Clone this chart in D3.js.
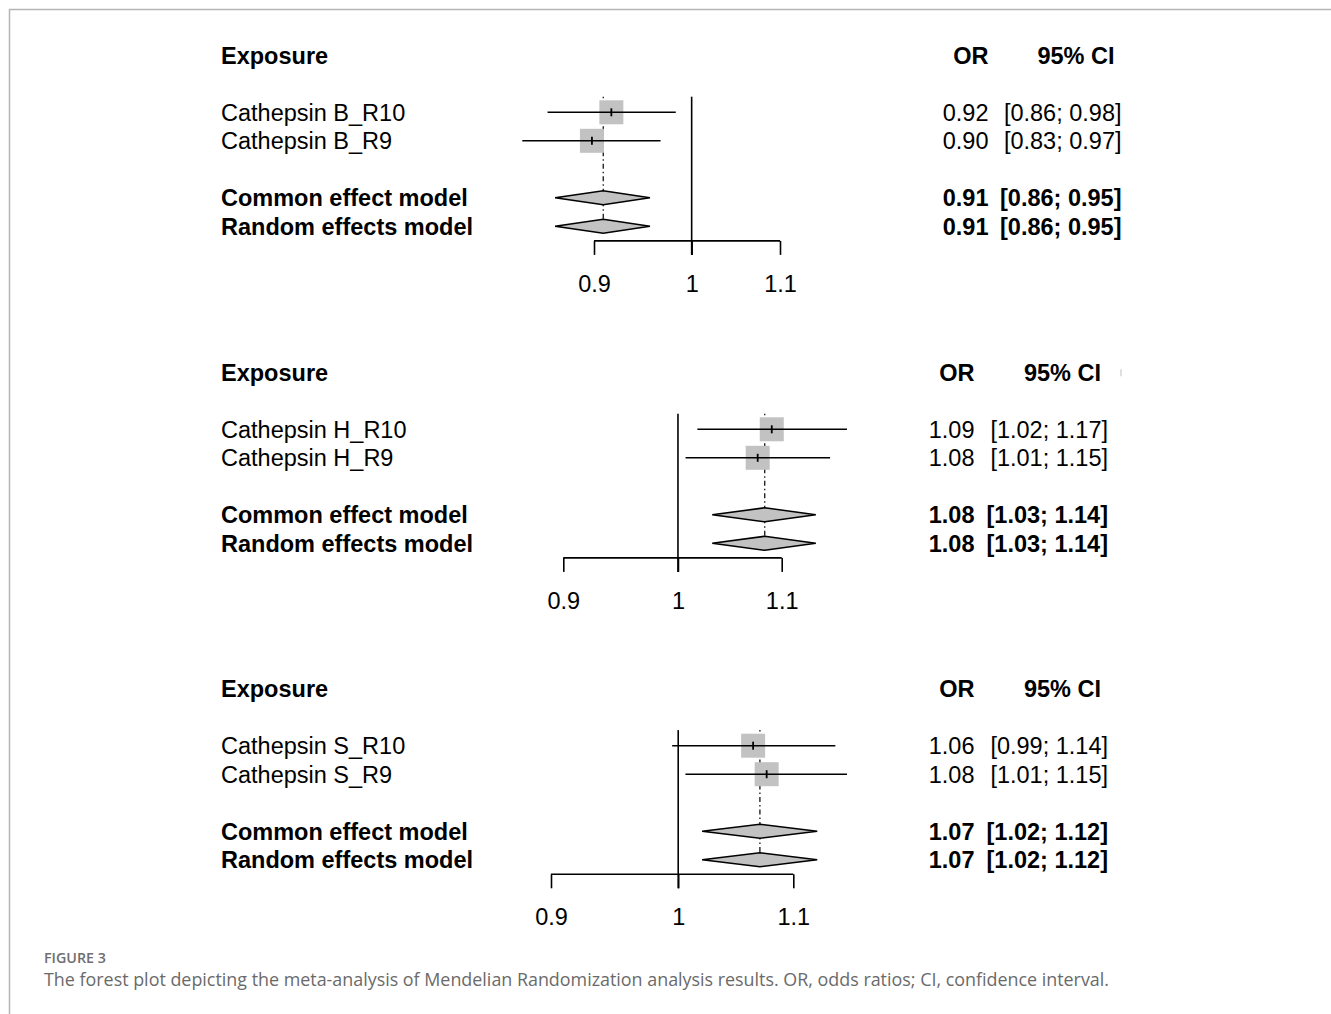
<!DOCTYPE html>
<html>
<head>
<meta charset="utf-8">
<script src="https://cdn.jsdelivr.net/npm/d3@7"></script>
<style>
  html, body { margin: 0; padding: 0; background: #fff; }
  svg { display: block; }
</style>
</head>
<body>
<svg id="chart" width="1331" height="1014"></svg>
<script>
// ---------------- DATA ----------------
const studyLabels = [
  ["Cathepsin B_R10", "Cathepsin B_R9"],
  ["Cathepsin H_R10", "Cathepsin H_R9"],
  ["Cathepsin S_R10", "Cathepsin S_R9"]
];
const studyOR    = [[0.917, 0.898], [1.090, 1.076], [1.064, 1.076]];
const studyLower = [[0.856, 0.833], [1.018, 1.007], [0.995, 1.006]];
const studyUpper = [[0.983, 0.967], [1.168, 1.150], [1.139, 1.150]];
const studyORText = [["0.92", "0.90"], ["1.09", "1.08"], ["1.06", "1.08"]];
const studyCIText = [
  ["[0.86; 0.98]", "[0.83; 0.97]"],
  ["[1.02; 1.17]", "[1.01; 1.15]"],
  ["[0.99; 1.14]", "[1.01; 1.15]"]
];
const modelLabels = ["Common effect model", "Random effects model"];
const pooledOR    = [[0.909, 0.909], [1.083, 1.083], [1.070, 1.070]];
const pooledLower = [[0.863, 0.863], [1.032, 1.032], [1.020, 1.020]];
const pooledUpper = [[0.956, 0.956], [1.135, 1.135], [1.122, 1.122]];
const pooledORText = [["0.91", "0.91"], ["1.08", "1.08"], ["1.07", "1.07"]];
const pooledCIText = [
  ["[0.86; 0.95]", "[0.86; 0.95]"],
  ["[1.03; 1.14]", "[1.03; 1.14]"],
  ["[1.02; 1.12]", "[1.02; 1.12]"]
];
const tickValues = [0.9, 1, 1.1];
const tickLabels = ["0.9", "1", "1.1"];
const headerLabels = ["Exposure", "OR", "95% CI"];
const figureLabel = "FIGURE 3";
const captionText = "The forest plot depicting the meta-analysis of Mendelian Randomization analysis results. OR, odds ratios; CI, confidence interval.";

// ---------------- LAYOUT ----------------
const svg = d3.select("#chart");
const FONT = "'Liberation Sans', Arial, Helvetica, sans-serif";
const FS = 23.5;
const BASE = FS * 0.358;          // baseline offset from row centre
const ROW = 28.5;
const BOX = 24;
const DIAM_H = 7;

const panels = [
  { row1: 112.3, xRange: [594, 780],   orRight: 988.5, ciRight: 1121.5, ciHeadRight: 1114.5 },
  { row1: 429.3, xRange: [563.3, 781.7], orRight: 974.5, ciRight: 1108,   ciHeadRight: 1101 },
  { row1: 745.7, xRange: [551, 793.3], orRight: 974.5, ciRight: 1108,   ciHeadRight: 1101 }
];

// border
svg.append("line").attr("x1", 9).attr("x2", 1331).attr("y1", 9.5).attr("y2", 9.5)
  .attr("stroke", "#b4b4b4").attr("stroke-width", 1.5);
svg.append("line").attr("x1", 9.5).attr("x2", 9.5).attr("y1", 9).attr("y2", 1014)
  .attr("stroke", "#b4b4b4").attr("stroke-width", 1.5);

panels.forEach((p, i) => {
  const g = svg.append("g");
  const x = d3.scaleLog().domain([tickValues[0], tickValues[tickValues.length - 1]]).range(p.xRange);
  const rowsY = [p.row1, p.row1 + ROW, p.row1 + 3 * ROW, p.row1 + 4 * ROW];
  const headY = p.row1 - 2 * ROW;
  const axisY = p.row1 + 128.6;
  const topY = p.row1 - 15.6;

  // headers
  g.append("text").attr("x", 221).attr("y", headY + BASE)
    .attr("font-family", FONT).attr("font-size", FS).attr("font-weight", "bold")
    .text(headerLabels[0]);
  g.append("text").attr("x", p.orRight).attr("y", headY + BASE).attr("text-anchor", "end")
    .attr("font-family", FONT).attr("font-size", FS).attr("font-weight", "bold")
    .text(headerLabels[1]);
  g.append("text").attr("x", p.ciHeadRight).attr("y", headY + BASE).attr("text-anchor", "end")
    .attr("font-family", FONT).attr("font-size", FS).attr("font-weight", "bold")
    .text(headerLabels[2]);
  if (i === 1) {
    g.append("line").attr("x1", p.ciRight + 13).attr("x2", p.ciRight + 13)
      .attr("y1", headY - 3).attr("y2", headY + 4).attr("stroke", "#d4d4d4").attr("stroke-width", 1.5);
  }

  // pooled dashed line
  g.append("line")
    .attr("x1", x(pooledOR[i][0])).attr("x2", x(pooledOR[i][0]))
    .attr("y1", topY).attr("y2", rowsY[3])
    .attr("stroke", "#000").attr("stroke-width", 1.2)
    .attr("stroke-dasharray", "1.5 3 5 3");

  // reference line at 1
  g.append("line").attr("x1", x(1)).attr("x2", x(1))
    .attr("y1", topY).attr("y2", axisY + 14)
    .attr("stroke", "#000").attr("stroke-width", 1.6);

  // axis
  const axis = d3.axisBottom(x).tickValues(tickValues).tickFormat((d, k) => tickLabels[k])
    .tickSizeInner(-14).tickSizeOuter(0).tickPadding(0);
  const ag = g.append("g").attr("transform", `translate(0,${axisY})`).call(axis);
  ag.select(".domain").attr("stroke", "#000").attr("stroke-width", 1.6).attr("d",
    `M${p.xRange[0]},0H${p.xRange[1]}`);
  ag.selectAll(".tick line").attr("y1", 0).attr("y2", 14).attr("stroke", "#000").attr("stroke-width", 1.6);
  ag.selectAll(".tick text").attr("y", 50.7).attr("dy", null)
    .attr("font-family", FONT).attr("font-size", FS).attr("fill", "#000");

  // studies
  studyLabels[i].forEach((lab, k) => {
    const y = rowsY[k];
    g.append("text").attr("x", 221).attr("y", y + BASE)
      .attr("font-family", FONT).attr("font-size", FS).text(lab);
    g.append("rect")
      .attr("x", x(studyOR[i][k]) - BOX / 2).attr("y", y - BOX / 2)
      .attr("width", BOX).attr("height", BOX).attr("fill", "#c2c2c2");
    g.append("line")
      .attr("x1", x(studyLower[i][k])).attr("x2", x(studyUpper[i][k]))
      .attr("y1", y).attr("y2", y).attr("stroke", "#000").attr("stroke-width", 1.6);
    g.append("line")
      .attr("x1", x(studyOR[i][k])).attr("x2", x(studyOR[i][k]))
      .attr("y1", y - 4).attr("y2", y + 4).attr("stroke", "#000").attr("stroke-width", 1.8);
    g.append("text").attr("x", p.orRight).attr("y", y + BASE).attr("text-anchor", "end")
      .attr("font-family", FONT).attr("font-size", FS).text(studyORText[i][k]);
    g.append("text").attr("x", p.ciRight).attr("y", y + BASE).attr("text-anchor", "end")
      .attr("font-family", FONT).attr("font-size", FS).text(studyCIText[i][k]);
  });

  // pooled models
  modelLabels.forEach((lab, k) => {
    const y = rowsY[2 + k];
    g.append("text").attr("x", 221).attr("y", y + BASE)
      .attr("font-family", FONT).attr("font-size", FS).attr("font-weight", "bold").text(lab);
    const lo = x(pooledLower[i][k]), hi = x(pooledUpper[i][k]), c = x(pooledOR[i][k]);
    g.append("path")
      .attr("d", `M${lo},${y}L${c},${y - DIAM_H}L${hi},${y}L${c},${y + DIAM_H}Z`)
      .attr("fill", "#c2c2c2").attr("stroke", "#000").attr("stroke-width", 1.6)
      .attr("stroke-linejoin", "miter");
    g.append("text").attr("x", p.orRight).attr("y", y + BASE).attr("text-anchor", "end")
      .attr("font-family", FONT).attr("font-size", FS).attr("font-weight", "bold").text(pooledORText[i][k]);
    g.append("text").attr("x", p.ciRight).attr("y", y + BASE).attr("text-anchor", "end")
      .attr("font-family", FONT).attr("font-size", FS).attr("font-weight", "bold").text(pooledCIText[i][k]);
  });
});

// caption
svg.append("text").attr("x", 44).attr("y", 962.7)
  .attr("font-family", "'Open Sans', Lato, sans-serif").attr("font-size", 14).attr("font-weight", 600)
  .attr("fill", "#6e6e6e").attr("textLength", 62).attr("lengthAdjust", "spacingAndGlyphs")
  .text(figureLabel);
svg.append("text").attr("x", 44).attr("y", 985.5)
  .attr("font-family", "'Open Sans', Lato, sans-serif").attr("font-size", 18.5)
  .attr("fill", "#6a6a6a").attr("textLength", 1065).attr("lengthAdjust", "spacingAndGlyphs")
  .text(captionText);
</script>
</body>
</html>
